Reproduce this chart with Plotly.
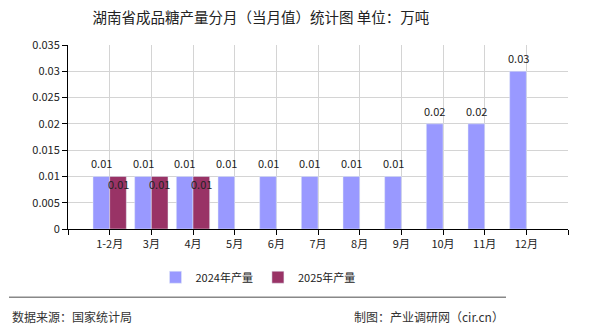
import plotly.graph_objects as go

categories = ["1-2月", "3月", "4月", "5月", "6月", "7月", "8月", "9月", "10月", "11月", "12月"]
values_2024 = [0.01, 0.01, 0.01, 0.01, 0.01, 0.01, 0.01, 0.01, 0.02, 0.02, 0.03]
values_2025 = [0.01, 0.01, 0.01]
labels_2024 = ["0.01", "0.01", "0.01", "0.01", "0.01", "0.01", "0.01", "0.01", "0.02", "0.02", "0.03"]
labels_2025 = ["0.01", "0.01", "0.01"]
y_ticks = [0, 0.005, 0.01, 0.015, 0.02, 0.025, 0.03, 0.035]
y_ticktext = ["0", "0.005", "0.01", "0.015", "0.02", "0.025", "0.03", "0.035"]

FONT = "Noto Sans CJK SC"
c24 = "#9999FF"
c25 = "#993366"

x24 = list(range(len(values_2024)))
x25 = list(range(len(values_2025)))

fig = go.Figure()
fig.add_trace(go.Bar(x=x24, y=values_2024, name="2024年产量", marker_color=c24,
                     offset=-0.4, width=0.4))
fig.add_trace(go.Bar(x=x25, y=values_2025, name="2025年产量", marker_color=c25,
                     offset=0.0, width=0.4))

for xi, v, t in zip(x24, values_2024, labels_2024):
    fig.add_annotation(x=xi - 0.2, y=v, text=t, showarrow=False, yshift=13,
                       xanchor="center", yanchor="middle",
                       font=dict(size=11, color="#222222", family=FONT))
for xi, v, t in zip(x25, values_2025, labels_2025):
    fig.add_annotation(x=xi + 0.2, y=v, text=t, showarrow=False, yshift=-8,
                       xanchor="center", yanchor="middle",
                       font=dict(size=11, color="#222222", family=FONT))

tickvals = list(range(-1, len(categories) + 1))
ticktext = [""] + categories + [""]

fig.update_layout(
    width=590, height=330,
    margin=dict(l=68, r=22, t=45, b=101),
    paper_bgcolor="white", plot_bgcolor="white",
    font=dict(family=FONT, size=11, color="#222222"),
    title=dict(text="湖南省成品糖产量分月（当月值）统计图 单位：万吨", x=0.442, xanchor="center",
               y=0.945, yanchor="middle", font=dict(size=14.5, color="#222222", family=FONT)),
    bargap=0.2,
    showlegend=True,
    legend=dict(orientation="h", x=0.38, xanchor="center", y=-0.262, yanchor="middle",
                font=dict(size=11, family=FONT), traceorder="normal"),
    xaxis=dict(range=[-1, len(categories)], tickvals=tickvals, ticktext=ticktext,
               showgrid=True, gridcolor="#d4d4d4", gridwidth=1,
               showline=True, linecolor="black", linewidth=1,
               ticks="outside", ticklen=5, tickcolor="black", zeroline=False,
               tickfont=dict(size=11)),
    yaxis=dict(range=[0, 0.035], tickvals=y_ticks, ticktext=y_ticktext,
               showgrid=True, gridcolor="#d4d4d4", gridwidth=1,
               showline=True, linecolor="black", linewidth=1,
               ticks="outside", ticklen=5, tickcolor="black", zeroline=False,
               tickfont=dict(size=11)),
)

fig.add_shape(type="line", xref="paper", yref="paper", x0=-0.118, x1=0.876,
              y0=-0.3715, y1=-0.3715, line=dict(color="#888888", width=1.5))
fig.add_annotation(text="数据来源：国家统计局", xref="paper", yref="paper", x=-0.116, y=-0.473,
                   xanchor="left", yanchor="middle", showarrow=False,
                   font=dict(size=12, color="#333333", family=FONT))
fig.add_annotation(text="制图：产业调研网（cir.cn）", xref="paper", yref="paper", x=0.876, y=-0.473,
                   xanchor="right", yanchor="middle", showarrow=False,
                   font=dict(size=12, color="#333333", family=FONT))

fig.write_html("out.html")
